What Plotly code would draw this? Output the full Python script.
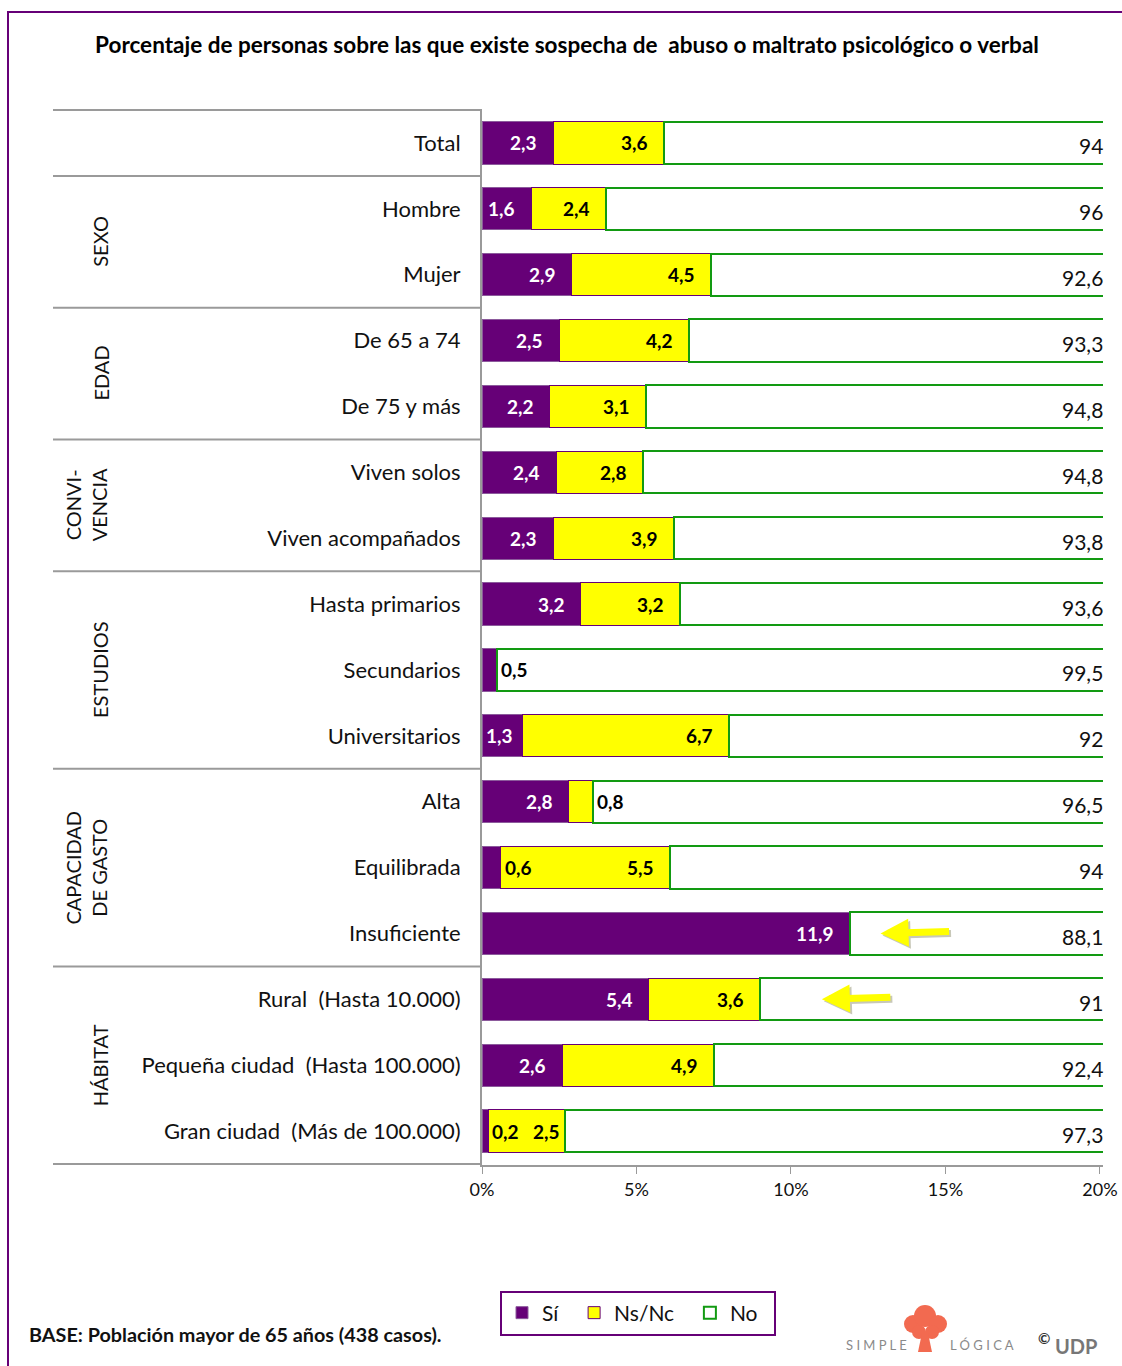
import plotly.graph_objects as go

# ---------------- data ----------------
categories = ["Total", "Hombre", "Mujer", "De 65 a 74", "De 75 y más",
              "Viven solos", "Viven acompañados",
              "Hasta primarios", "Secundarios", "Universitarios",
              "Alta", "Equilibrada", "Insuficiente",
              "Rural  (Hasta 10.000)", "Pequeña ciudad  (Hasta 100.000)",
              "Gran ciudad  (Más de 100.000)"]
si = [2.3, 1.6, 2.9, 2.5, 2.2, 2.4, 2.3, 3.2, 0.5, 1.3, 2.8, 0.6, 11.9, 5.4, 2.6, 0.2]
nsnc = [3.6, 2.4, 4.5, 4.2, 3.1, 2.8, 3.9, 3.2, 0.0, 6.7, 0.8, 5.5, 0.0, 3.6, 4.9, 2.5]
no = [94, 96, 92.6, 93.3, 94.8, 94.8, 93.8, 93.6, 99.5, 92, 96.5, 94, 88.1, 91, 92.4, 97.3]
series_names = ["Sí", "Ns/Nc", "No"]
group_names = ["", "SEXO", "EDAD", "CONVI-<br>VENCIA", "ESTUDIOS", "CAPACIDAD<br>DE GASTO", "HÁBITAT"]
group_sizes = [1, 2, 2, 2, 3, 3, 3]
tick_vals = [0, 5, 10, 15, 20]
tick_text = ["0%", "5%", "10%", "15%", "20%"]
highlight = ["Insuficiente", "Rural  (Hasta 10.000)"]
highlight_gap = [1.0, 2.0]

# ---------------- style ----------------
PURPLE = "#660077"
YELLOW = "#FFFF00"
GREEN = "#129A12"
GRAY = "#9a9a9a"
FONT = "Lato"
W, H = 1122, 1366
L, R, T, B = 482, 1103, 109, 1165
XMAX = 20.1
PX_PER_UNIT = (R - L) / XMAX


def px(x):
    return (x - L) / (R - L)


def py(y):
    return (B - y) / (B - T)


def fmt(v):
    s = ("%.1f" % v).rstrip("0").rstrip(".")
    return s.replace(".", ",")


fig = go.Figure()
fig.add_trace(go.Bar(y=categories, x=si, orientation="h", name=series_names[0] + "\u00a0\u00a0",
                     hoverinfo="skip",
                     marker=dict(color=PURPLE, line=dict(color="#8c5a9c", width=1))))
fig.add_trace(go.Bar(y=categories, x=nsnc, orientation="h", name=series_names[1] + "\u00a0\u00a0",
                     hoverinfo="skip",
                     marker=dict(color=YELLOW, line=dict(color=PURPLE, width=1))))
fig.add_trace(go.Bar(y=categories, x=no, orientation="h", name=series_names[2] + "\u00a0\u00a0",
                     hoverinfo="skip",
                     marker=dict(color="white", line=dict(color=GREEN, width=2))))

ann = []
TEXT_W = 27
# value labels
for c, a, b, n in zip(categories, si, nsnc, no):
    small_first = 0 < a < 1
    for k, (start, v, col) in enumerate(((0, a, "white"), (a, b, "black"))):
        if v <= 0:
            continue
        end = start + v
        if v >= 1:
            wpx = v * PX_PER_UNIT
            shift = max(-14, -(wpx - TEXT_W - 6))
            if k == 1 and small_first and wpx < 90:
                shift = -3
            ann.append(dict(x=end, y=c, xref="x", yref="y", text="<b>%s</b>" % fmt(v),
                            xanchor="right", xshift=shift, showarrow=False,
                            font=dict(family=FONT, size=19, color=col)))
        else:
            ann.append(dict(x=end, y=c, xref="x", yref="y", text="<b>%s</b>" % fmt(v),
                            xanchor="left", xshift=2, showarrow=False,
                            font=dict(family=FONT, size=19, color="black")))
    ann.append(dict(x=XMAX, y=c, xref="x", yref="y", text=fmt(n), xanchor="right",
                    xshift=2, yshift=-3, showarrow=False,
                    font=dict(family=FONT, size=21, color="#111")))

# group labels and separators
shapes = []
idx = 0
bounds = [-0.5]
for g, s in zip(group_names, group_sizes):
    mid = idx + (s - 1) / 2
    if g:
        two = "<br>" in g
        ann.append(dict(x=px(86 if two else 100), y=mid, xref="paper", yref="y", text=g,
                        textangle=-90, showarrow=False, xanchor="center", yanchor="middle",
                        font=dict(family=FONT, size=20, color="#111")))
    idx += s
    bounds.append(idx - 0.5)
for bnd in bounds:
    shapes.append(dict(type="line", xref="paper", yref="y", x0=px(53), x1=px(482),
                       y0=bnd, y1=bnd, line=dict(color=GRAY, width=2)))

# highlight arrows
for c, gap in zip(highlight, highlight_gap):
    i = categories.index(c)
    total = si[i] + nsnc[i]
    for color, dx, dy in (("#c8c8b8", 2, -2), ("#FFFF00", 0, 0)):
        ann.append(dict(x=total + gap, y=c, xref="x", yref="y", ax=70, ay=-2,
                        axref="pixel", ayref="pixel", text="", showarrow=True,
                        arrowhead=2, arrowsize=0.8, arrowwidth=7, arrowcolor=color,
                        xshift=dx, yshift=dy))

# frame
shapes.append(dict(type="line", xref="paper", yref="paper", x0=px(8), x1=px(8),
                   y0=py(12), y1=py(1370), line=dict(color=PURPLE, width=2)))
shapes.append(dict(type="line", xref="paper", yref="paper", x0=px(7), x1=px(1126),
                   y0=py(12), y1=py(12), line=dict(color=PURPLE, width=2)))

# logo tree
TREE = "#F26A50"
for cx, cy, r in ((913, 1324, 9), (925, 1316, 11), (938, 1324, 9), (919, 1332, 7), (932, 1332, 7)):
    shapes.append(dict(type="circle", xref="paper", yref="paper", x0=px(cx - r), x1=px(cx + r),
                       y0=py(cy + r), y1=py(cy - r), fillcolor=TREE, line=dict(width=0)))
shapes.append(dict(type="path", xref="paper", yref="paper",
                   path="M %f %f L %f %f L %f %f L %f %f Z" % (px(922), py(1333), px(928), py(1333),
                                                             px(932), py(1352), px(918), py(1352)),
                   fillcolor=TREE, line=dict(width=0)))


def paper_text(xp, yp, text, size, color, xanchor="center"):
    ann.append(dict(x=px(xp), y=py(yp), xref="paper", yref="paper", xanchor=xanchor,
                    yanchor="middle", text=text, showarrow=False,
                    font=dict(family=FONT, size=size, color=color)))


paper_text(27, 1334, "<b>BASE: Población mayor de 65 años (438 casos).</b>", 19.8, "#111", "left")
paper_text(876, 1345, "S I M P L E", 13, "#8a8a8a")
paper_text(982, 1345, "L Ó G I C A", 13, "#8a8a8a")
paper_text(1044, 1338, "<b>©</b>", 15, "#333")
paper_text(1076, 1346, "<b>UDP</b>", 20, "#777")

fig.update_layout(
    width=W, height=H,
    margin=dict(l=L, r=W - R, t=T, b=H - B, autoexpand=False),
    paper_bgcolor="white", plot_bgcolor="white",
    barmode="stack", bargap=0.36, hovermode=False,
    font=dict(family=FONT, color="#111"),
    title=dict(text="<b>Porcentaje de personas sobre las que existe sospecha de  abuso o maltrato psicológico o verbal</b>",
               x=567 / W, xanchor="center", y=1 - 45 / H, yanchor="middle",
               xref="container", yref="container",
               font=dict(family=FONT, size=22.5, color="black")),
    xaxis=dict(range=[0, XMAX], tickvals=tick_vals, ticktext=tick_text, ticks="outside",
               ticklen=7, tickcolor=GRAY, showline=True, linecolor=GRAY, linewidth=2,
               showgrid=False, zeroline=False, fixedrange=True, automargin=False,
               tickfont=dict(family=FONT, size=18, color="#111")),
    yaxis=dict(type="category", autorange="reversed", showline=True, linecolor=GRAY,
               linewidth=2, ticks="", showgrid=False, ticklabelstandoff=15, fixedrange=True,
               automargin=False, tickfont=dict(family=FONT, size=22, color="#111")),
    legend=dict(orientation="h", xref="container", yref="container",
                x=638 / W, xanchor="center", y=1 - 1313 / H, yanchor="middle",
                bordercolor=PURPLE, borderwidth=2, bgcolor="white", itemwidth=30,
                font=dict(family=FONT, size=21, color="#111"), traceorder="normal"),
    annotations=ann, shapes=shapes, showlegend=True,
)

fig.write_html("out.html", config={"displayModeBar": False},
               post_script="document.body.style.margin='0';document.body.style.overflow='hidden';")
